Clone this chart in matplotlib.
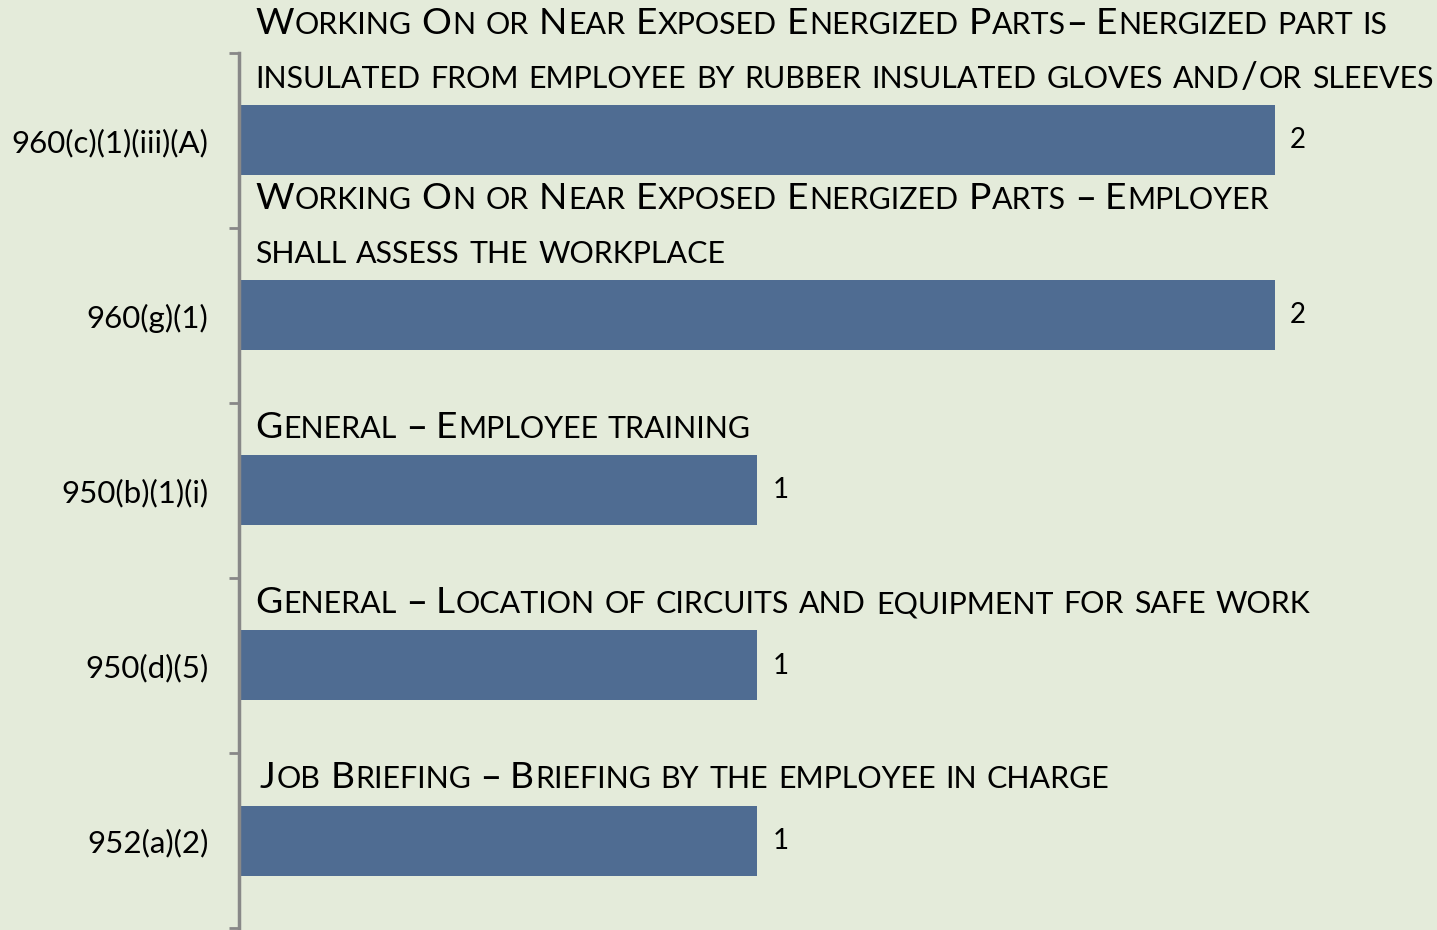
import matplotlib
matplotlib.use("Agg")
import matplotlib.pyplot as plt
from matplotlib.transforms import offset_copy

# данные
codes = ["960(c)(1)(iii)(A)", "960(g)(1)", "950(b)(1)(i)", "950(d)(5)", "952(a)(2)"]
counts = [2, 2, 1, 1, 1]
titles = [
    ["Working On or Near Exposed Energized Parts– Energized part is",
     "insulated from employee by rubber insulated gloves and/or sleeves"],
    ["Working On or Near Exposed Energized Parts – Employer",
     "shall assess the workplace"],
    ["General – Employee training"],
    ["General – Location of circuits and equipment for safe work"],
    ["Job Briefing – Briefing by the employee in charge"],
]

bg = "#E4EBDA"
bar_color = "#4F6C92"
font = "Lato"
big_size = 26.8
small_size = 21.9

plt.rcParams["font.family"] = [font, "DejaVu Sans"]

fig = plt.figure(figsize=(14.37, 9.3), dpi=100, facecolor=bg)
ax = fig.add_axes([239 / 1437, 2 / 930, 1 - 239 / 1437, 875 / 930])
ax.set_facecolor(bg)

y = list(range(len(codes)))
ax.barh(y, counts, height=0.4, color=bar_color)
ax.set_xlim(0, 2.313)
ax.set_ylim(len(codes) - 0.5, -0.5)

for s in ["top", "right", "bottom"]:
    ax.spines[s].set_visible(False)
ax.spines["left"].set_color("#888888")
ax.spines["left"].set_linewidth(2.5)
ax.set_xticks([])
ax.set_yticks(y)
ax.set_yticklabels(codes, fontsize=22.5)
ax.tick_params(axis="y", which="major", length=0, pad=22)
ax.set_yticks([i - 0.5 for i in range(len(codes) + 1)], minor=True)
ax.tick_params(axis="y", which="minor", length=7, width=2, color="#888888")

for i, v in enumerate(counts):
    ax.annotate(str(v), (v, i), xytext=(11, 0), textcoords="offset points",
                va="center", ha="left", fontsize=20)

renderer = fig.canvas.get_renderer()


def text_width(s, size):
    t = ax.text(0, 0, s, fontsize=size)
    w = t.get_window_extent(renderer).width
    t.remove()
    return w


space_w = text_width("a a", small_size) - text_width("aa", small_size) + 1.2


# капитель вручную: строчные буквы - заглавные меньшего размера
def smallcaps(x, yb, s):
    runs = []
    for ch in s:
        if ch == " ":
            kind = "sp"
        elif ch == "–":
            kind = "d"
        elif ch.islower():
            kind = "s"
        else:
            kind = "b"
        if runs and runs[-1][0] == kind:
            runs[-1][1] += ch
        else:
            runs.append([kind, ch])
    off = 0
    for kind, txt in runs:
        if kind == "sp":
            off += space_w * len(txt)
            continue
        size = small_size if kind == "s" else big_size
        fam = ["DejaVu Sans"] if kind == "d" else [font, "DejaVu Sans"]
        tr = offset_copy(ax.transData, fig=fig, x=off, y=0, units="dots")
        t = ax.text(x, yb, txt.upper(), fontsize=size, transform=tr,
                    va="baseline", ha="left", clip_on=False, family=fam)
        off += t.get_window_extent(renderer).width + 1


for i, lines in enumerate(titles):
    x0 = 0.04 if i == 4 else 0.031
    n = len(lines)
    for k, line in enumerate(lines):
        yb = i - 0.3 - (n - 1 - k) * 0.31
        smallcaps(x0, yb, line)

fig.savefig("out.png", dpi=100, facecolor=bg)
